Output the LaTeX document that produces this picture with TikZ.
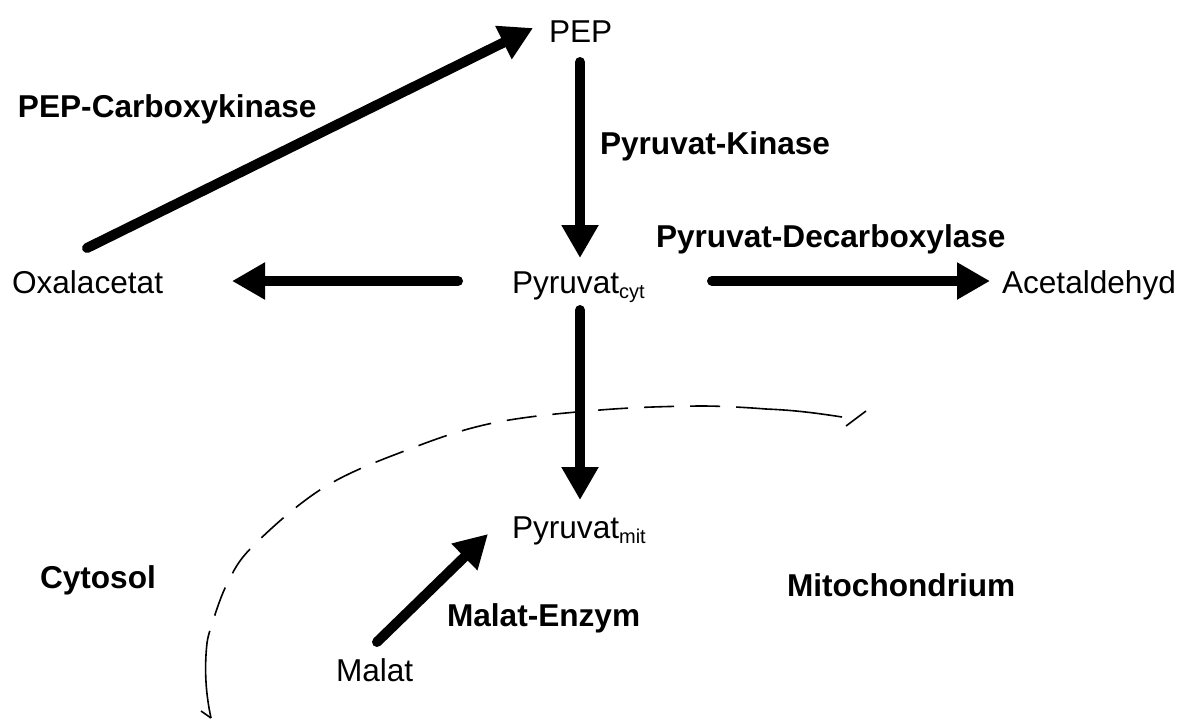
\documentclass[tikz,border=0pt]{standalone}
\usepackage{fontspec}
\setmainfont{Liberation Sans}
\usetikzlibrary{arrows.meta}

% lowered small suffix marking the compartment of a metabolite
\newcommand\compartment[1]{\raisebox{-2.6pt}{\fontsize{10}{12}\selectfont #1}}

\begin{document}
\begin{tikzpicture}[x=0.5pt,y=-0.5pt,
  metabolite/.style={anchor=base west,inner sep=0pt,outer sep=0pt,
    font=\fontsize{15.8}{18}\selectfont},
  enzyme/.style={anchor=base west,inner sep=0pt,outer sep=0pt,
    font=\fontsize{15.8}{18}\selectfont\bfseries},
  flow/.style={line width=5pt,line cap=round,
    -{Triangle[length=16.5pt,width=17.5pt]}},
  membrane/.style={line width=0.8pt,dash pattern=on 15pt off 8pt},
  membraneend/.style={line width=0.8pt}]
\useasboundingbox (0,0) rectangle (1181,719);

% metabolites
\node[metabolite] (pep) at (549,42)  {PEP};
\node[metabolite] (pyc) at (512,293) {Pyruvat\compartment{cyt}};
\node[metabolite] (oxa) at (12,293)  {Oxalacetat};
\node[metabolite] (ace) at (1002,293) {Acetaldehyd};
\node[metabolite] (pym) at (512,538) {Pyruvat\compartment{mit}};
\node[metabolite] (mal) at (336,681) {Malat};

% enzymes and compartments
\node[enzyme] (pck) at (18,117)  {PEP-Carboxykinase};
\node[enzyme] (pk)  at (600,154) {Pyruvat-Kinase};
\node[enzyme] (pdc) at (656,247) {Pyruvat-Decarboxylase};
\node[enzyme] (cyto) at (40,588) {Cytosol};
\node[enzyme] (mito) at (787,596) {Mitochondrium};
\node[enzyme] (me)  at (447,626) {Malat-Enzym};

% reactions
\draw[flow] ([shift={(75,-45)}]oxa.base west) -- ([shift={(-16,-14)}]pep.base west);
\draw[flow] ([shift={(31,20)}]pep.base west) -- ([shift={(68,-35)}]pyc.base west);
\draw[flow] ([shift={(-54,-12)}]pyc.base west) -- ([shift={(220,-12)}]oxa.base west);
\draw[flow] ([shift={(200,-12)}]pyc.base west) -- ([shift={(-12,-12)}]ace.base west);
\draw[flow] ([shift={(68,17)}]pyc.base west) -- ([shift={(68,-38)}]pym.base west);
\draw[flow] ([shift={(41,-39)}]mal.base west) -- ([shift={(-24,-4)}]pym.base west);

% mitochondrial membrane
\coordinate (mtop) at (842,417);
\coordinate (mbot) at (211,718);
\draw[membrane] plot[smooth,tension=0.6] coordinates {(766,409) (700,406) (600,410)
  (493,423) (407,450) (323,488) (253,546) (227,584) (211,627) (207,643)};
\draw[membraneend] (mtop) .. controls (810,412) and (790,410) .. (766,409);
\draw[membraneend] (207,643) .. controls (204,670) and (206,695) .. (mbot);
\draw[membraneend] (201,711) -- (mbot);
\draw[membraneend] (866,411) -- (846,426);
\end{tikzpicture}
\end{document}
